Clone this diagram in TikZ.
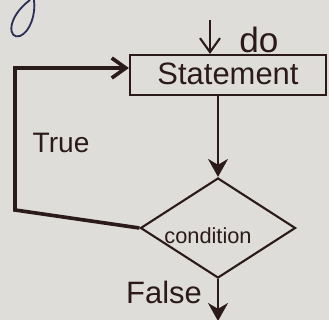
\documentclass[tikz,border=0pt]{standalone}
\usepackage{fontspec}
\setmainfont{Liberation Sans}
\usetikzlibrary{shapes.geometric, arrows.meta}
\definecolor{paper}{HTML}{DFDDD9}
\definecolor{ink}{HTML}{2B1A1A}
\definecolor{pen}{HTML}{2A2F55}
\tikzset{
  flow/.style={ink, line width=1.5pt},
  loopline/.style={ink, line width=2.6pt},
  fill tip/.style={-{Stealth[length=4.5mm, width=5mm]}},
  open tip/.style={-{Straight Barb[length=3.5mm, width=5mm]}},
  lbl/.style={ink, inner sep=0pt},
}

\begin{document}
\begin{tikzpicture}[x=0.025cm, y=-0.025cm]
  \fill[paper] (0,0) rectangle (329,320);
  \useasboundingbox (0,0) rectangle (329,320);
  % stray pen mark at the top left
  \draw[pen, line width=1.3pt] (30,0) .. controls (6,18) and (8,40) .. (20,36)
    .. controls (30,32) and (36,14) .. (34,0);

  \node[flow, draw, rectangle, minimum width=4.9cm, minimum height=1cm,
        inner sep=0pt] (stmt) at (228,75) {};
  \node[lbl, font=\fontsize{22}{24}\selectfont] (stmtTxt) at (228,74) {Statement};
  \node[flow, draw, diamond, minimum width=3.875cm, minimum height=2.5cm,
        inner sep=0pt] (cond) at (218,228) {};
  \node[lbl, font=\fontsize{15.5}{17}\selectfont] (condTxt) at (208,236) {condition};

  \coordinate (start) at (210,20);
  \coordinate (c1) at (15,210);
  \coordinate (c2) at (15,68);
  \coordinate (finish) at (218,321);

  \draw[flow, open tip] (start) -- (stmt.north -| start);
  \node[lbl, font=\fontsize{25}{27}\selectfont] (doTxt) at (259,40) {do};
  \draw[flow, fill tip] (stmt.south -| cond) -- (cond.north);
  \draw[loopline, open tip] (cond.west) -- (c1) -- (c2) -- (stmt.west |- c2);
  \draw[flow, fill tip] (cond.south) -- (finish);

  \node[lbl, font=\fontsize{20}{22}\selectfont] (trueTxt) at (61,143) {True};
  \node[lbl, font=\fontsize{22}{24}\selectfont] (falseTxt) at (164,292) {False};
\end{tikzpicture}
\end{document}
